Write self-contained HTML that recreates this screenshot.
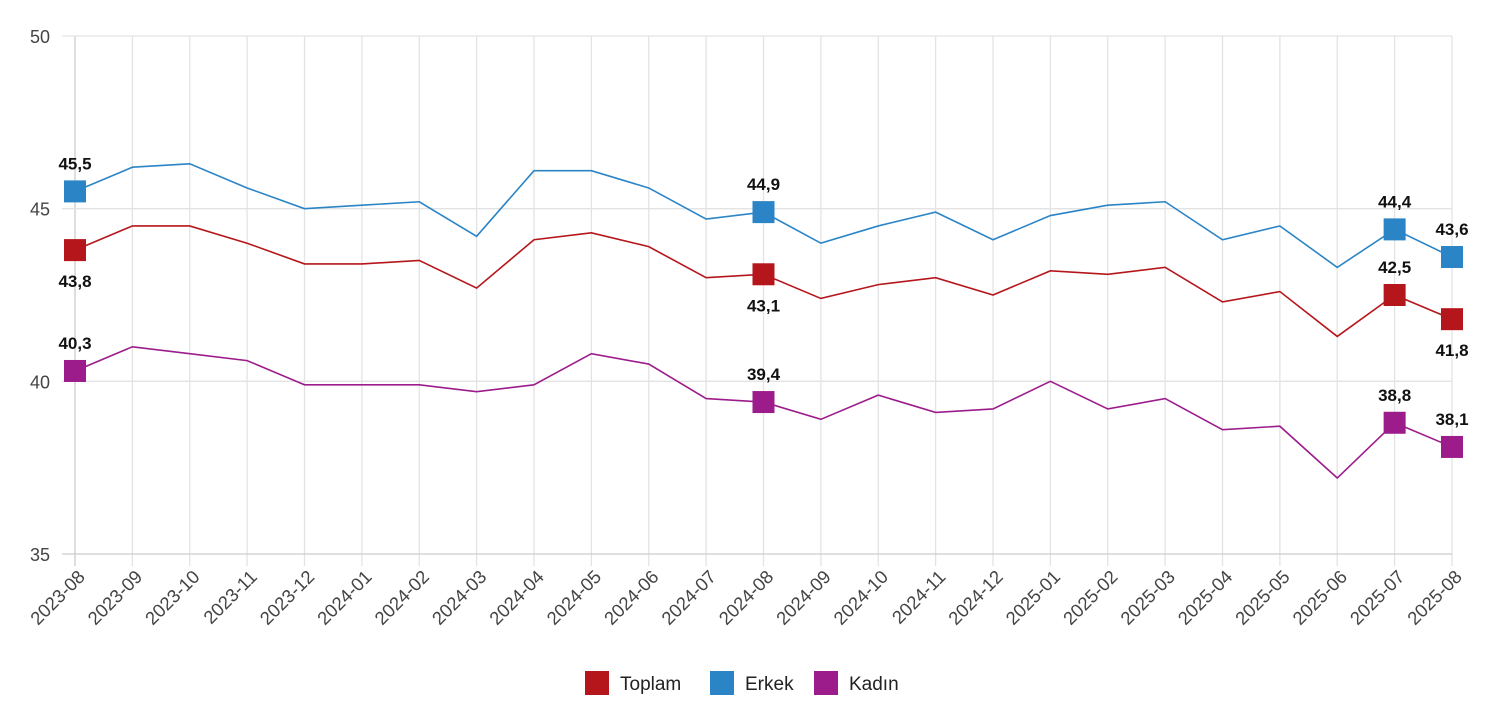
<!DOCTYPE html>
<html><head><meta charset="utf-8"><style>
html,body{margin:0;padding:0;background:#fff;}
svg{display:block;font-family:"Liberation Sans",sans-serif;}
</style></head><body>
<svg id="c" width="1498" height="708" xmlns="http://www.w3.org/2000/svg"></svg>
<script>
const s=document.getElementById('c');
const x0=75,dx=1377/24,yv=v=>36+(50-v)*518/15;
const months=["2023-08","2023-09","2023-10","2023-11","2023-12","2024-01","2024-02","2024-03","2024-04","2024-05","2024-06","2024-07","2024-08","2024-09","2024-10","2024-11","2024-12","2025-01","2025-02","2025-03","2025-04","2025-05","2025-06","2025-07","2025-08"];
const E=[45.5,46.2,46.3,45.6,45.0,45.1,45.2,44.2,46.1,46.1,45.6,44.7,44.9,44.0,44.5,44.9,44.1,44.8,45.1,45.2,44.1,44.5,43.3,44.4,43.6];
const T=[43.8,44.5,44.5,44.0,43.4,43.4,43.5,42.7,44.1,44.3,43.9,43.0,43.1,42.4,42.8,43.0,42.5,43.2,43.1,43.3,42.3,42.6,41.3,42.5,41.8];
const K=[40.3,41.0,40.8,40.6,39.9,39.9,39.9,39.7,39.9,40.8,40.5,39.5,39.4,38.9,39.6,39.1,39.2,40.0,39.2,39.5,38.6,38.7,37.2,38.8,38.1];
let h='';
for(let i=0;i<25;i++){const x=x0+i*dx;h+=`<line x1="${x}" y1="36" x2="${x}" y2="566" stroke="${i==0?'#ccc':'#e3e3e3'}" stroke-width="1.3"/>`;
h+=`<text transform="translate(${x+11},578) rotate(-45)" text-anchor="end" font-size="18.5" fill="#444">${months[i]}</text>`;}
[50,45,40,35].forEach(v=>{const y=yv(v);h+=`<line x1="62" y1="${y}" x2="1452" y2="${y}" stroke="${v==35?'#ccc':'#e3e3e3'}" stroke-width="1.3"/>`;
h+=`<text x="50" y="${y+7}" text-anchor="end" font-size="18" fill="#444">${v}</text>`;});
const ser=[[T,'#b5161b'],[E,'#2a84c6'],[K,'#9c1c8c']];
const idx=[0,12,23,24];
ser.forEach(([d,c],si)=>{h+=`<polyline fill="none" stroke="${c}" stroke-width="1.6" points="${d.map((v,i)=>(x0+i*dx)+','+yv(v)).join(' ')}"/>`;});
ser.forEach(([d,c],si)=>{idx.forEach(i=>{const x=x0+i*dx,y=yv(d[i]);h+=`<rect x="${x-11}" y="${y-11}" width="22" height="22" fill="${c}"/>`;
let ly=y-22; if(si==0&&i!=23) ly=y+37;
h+=`<text x="${x}" y="${ly}" text-anchor="middle" font-size="17" font-weight="bold" fill="#111">${d[i].toFixed(1).replace('.',',')}</text>`;});});
[['Toplam','#b5161b',585],['Erkek','#2a84c6',710],['Kadın','#9c1c8c',814]].forEach(([t,c,x])=>{h+=`<rect x="${x}" y="671" width="24" height="24" fill="${c}"/><text x="${x+35}" y="690" font-size="19" fill="#222">${t}</text>`;});
s.innerHTML=h;
</script>
</body></html>
